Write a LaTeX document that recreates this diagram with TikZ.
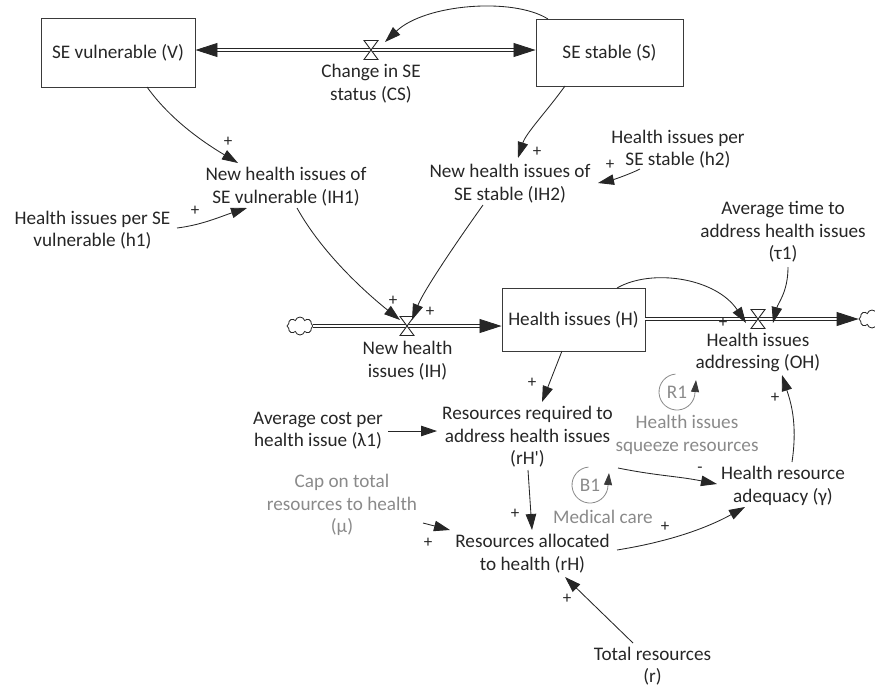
\documentclass[tikz,border=0pt]{standalone}
\usepackage{fontspec}
\setmainfont{Carlito}
\usetikzlibrary{arrows.meta,shapes.symbols,calc}
\definecolor{ink}{HTML}{262626}
\definecolor{rim}{HTML}{3A3A3A}
\definecolor{soft}{HTML}{8A8A8A}
\tikzset{
  lbl/.style={align=center, inner sep=0pt, text=ink, font=\fontsize{19.2}{22.5}\selectfont},
  lblsoft/.style={lbl, text=soft},
  stock/.style={lbl, draw=rim, line width=0.9pt},
  link/.style={draw=ink, line width=0.85pt, -{Triangle[length=16pt,width=10.5pt]}},
  pipe/.style={draw=ink, line width=0.8pt, double=white, double distance=2.6pt},
  flowhead/.style={-{Triangle[length=22pt,width=14pt]}},
  sign/.style={inner sep=0pt, text=ink, font=\fontsize{17}{17}\selectfont},
  cloudsrc/.style={cloud, cloud puffs=8, cloud ignores aspect, draw=ink, line width=0.8pt,
    fill=white, minimum width=26pt, minimum height=18pt, inner sep=0pt},
  loopmark/.style={draw=soft, line width=0.8pt},
  looptip/.style={-{Triangle[length=12pt,width=8pt,color=rim]}},
  flowvalve/.pic={\draw[draw=ink, line width=0.9pt, fill=white]
    (-7,-9.5) -- (7,-9.5) -- (-7,9.5) -- (7,9.5) -- cycle;}
}
\begin{document}
\begin{tikzpicture}[x=1pt,y=-1pt]
\useasboundingbox (0,0) rectangle (875,689);

% stocks
\node[stock, minimum width=154pt, minimum height=69pt] (V) at (118,52.5) {SE vulnerable (V)};
\node[stock, minimum width=147pt, minimum height=67pt] (S) at (609.5,52.5) {SE stable (S)};
\node[stock, minimum width=143pt, minimum height=63pt] (H) at (573.5,319.5) {Health issues (H)};

% sources and sinks
\node[cloudsrc] (c1) at (300,326) {};
\node[cloudsrc] (c2) at (872,319) {};

% valve positions
\coordinate (vCS) at (371,50);
\coordinate (vIH) at (407,326);
\coordinate (vOH) at (758,319);

% pipes
\draw[pipe, {Triangle[length=22pt,width=14pt]}-{Triangle[length=22pt,width=14pt]}]
  (V.east |- vCS) -- (S.west |- vCS);
\draw[pipe, flowhead] (c1.east) -- (H.west |- vIH);
\draw[pipe, flowhead] (H.east |- vOH) -- (c2.west);

\pic at (vCS) {flowvalve};
\pic at (vIH) {flowvalve};
\pic at (vOH) {flowvalve};

% variables
\node[lbl] (CS) at (371,83.5) {Change in SE\\status (CS)};
\node[lbl] (IH1) at (286,186.5) {New health issues of\\SE vulnerable (IH1)};
\node[lbl] (h1) at (92.5,230) {Health issues per SE\\vulnerable (h1)};
\node[lbl] (IH2) at (510,183.5) {New health issues of\\SE stable (IH2)};
\node[lbl] (h2) at (678,149) {Health issues per\\SE stable (h2)};
\node[lbl] (tau) at (783,232) {Average time to\\address health issues\\(τ1)};
\node[lbl] (IH) at (407.5,360.5) {New health\\issues (IH)};
\node[lbl] (OH) at (758,352.5) {Health issues\\addressing (OH)};
\node[lbl] (gam) at (783,486) {Health resource\\adequacy (γ)};
\node[lbl] (lam) at (318,430.5) {Average cost per\\health issue (λ1)};
\node[lbl] (rHp) at (527.5,437) {Resources required to\\address health issues\\(rH\textquotesingle)};
\node[lblsoft] (mu) at (342,505) {Cap on total\\resources to health\\(μ)};
\node[lbl] (rH) at (532.5,553.5) {Resources allocated\\to health (rH)};
\node[lbl] (r) at (652.5,666) {Total resources\\(r)};

% loop labels: arc runs counter-clockwise on the page, then the tip points straight up
\node[lblsoft] (sq) at (687,435) {Health issues\\squeeze resources};
\node[lblsoft] (med) at (603,517) {Medical care};
\node[lblsoft] (R1) at (677,392) {R1};
\node[lblsoft] (B1) at (590,485) {B1};
\draw[loopmark, looptip] ([shift={(-95:18)}]R1.center) arc[start angle=-95, end angle=-360, radius=18] -- ++(1,-12);
\draw[loopmark, looptip] ([shift={(-95:18)}]B1.center) arc[start angle=-95, end angle=-360, radius=18] -- ++(1,-12);

% causal links
\draw[link] ($(S)+(-61.5,-33.5)$) .. controls +(-35,-22) and +(40,-38) .. ($(vCS)+(14,-8)$);
\draw[link] ($(V)+(29,34.5)$) .. controls +(25,35) and +(-30,-18) .. ($(IH1)+(-48,-23.5)$);
\draw[link] ($(h1)+(84.5,-2)$) .. controls +(25,-3) and +(-25,8) .. ($(IH1)+(-39,21.5)$);
\draw[link] ($(S)+(-44.5,33.5)$) .. controls +(-18,25) and +(8,-25) .. ($(IH2)+(8,-25.5)$);
\draw[link] ($(h2)+(-38,20)$) .. controls +(-12,6) and +(14,-3) .. ($(IH2)+(88,-0.5)$);
\draw[link] ($(IH1)+(11,21.5)$) .. controls +(25,45) and +(-35,-28) .. ($(vIH)+(-7,-6)$);
\draw[link] ($(IH2)+(-27,21.5)$) .. controls +(-25,35) and +(12,-30) .. ($(vIH)+(5,-6)$);
\draw[link] ($(H)+(43.5,-31.5)$) .. controls +(35,-20) and +(-30,-45) .. ($(vOH)+(-12,4)$);
\draw[link] ($(tau)+(5,35)$) .. controls +(0,25) and +(5,-20) .. ($(vOH)+(15,4)$);
\draw[link] ($(H)+(-11.5,31.5)$) -- ($(rHp)+(14.5,-35)$);
\draw[link] ($(lam)+(70,0.5)$) -- ($(rHp)+(-90.5,-6)$);
\draw[link] ($(rHp)+(90.5,31)$) .. controls +(40,8) and +(-40,-8) .. ($(gam)+(-66,-2)$);
\draw[link] ($(gam)+(9,-24)$) .. controls +(6,-40) and +(8,25) .. ($(OH)+(24,22.5)$);
\draw[link] ($(rHp)+(0.5,33)$) -- ($(rH)+(-0.5,-23.5)$);
\draw[link] ($(mu)+(81,18)$) -- ($(rH)+(-82.5,-23.5)$);
\draw[link] ($(rH)+(84.5,-3.5)$) .. controls +(50,-8) and +(-40,22) .. ($(gam)+(-38,21)$);
\draw[link] ($(r)+(-19.5,-23)$) -- ($(rH)+(32.5,23.5)$);

% link polarities
\node[sign] (s1) at (228,142) {+};
\node[sign] (s2) at (195,211) {+};
\node[sign] (s3) at (537,152) {+};
\node[sign] (s4) at (610,165) {+};
\node[sign] (s5) at (393,301) {+};
\node[sign] (s6) at (430,312) {+};
\node[sign] (s7) at (723,323) {+};
\node[sign] (s8) at (532,383) {+};
\node[sign] (s9) at (700,470) {-};
\node[sign] (s10) at (775,398) {+};
\node[sign] (s11) at (515,514) {+};
\node[sign] (s12) at (428,543) {+};
\node[sign] (s13) at (665,527) {+};
\node[sign] (s14) at (567,599) {+};
\end{tikzpicture}
\end{document}
